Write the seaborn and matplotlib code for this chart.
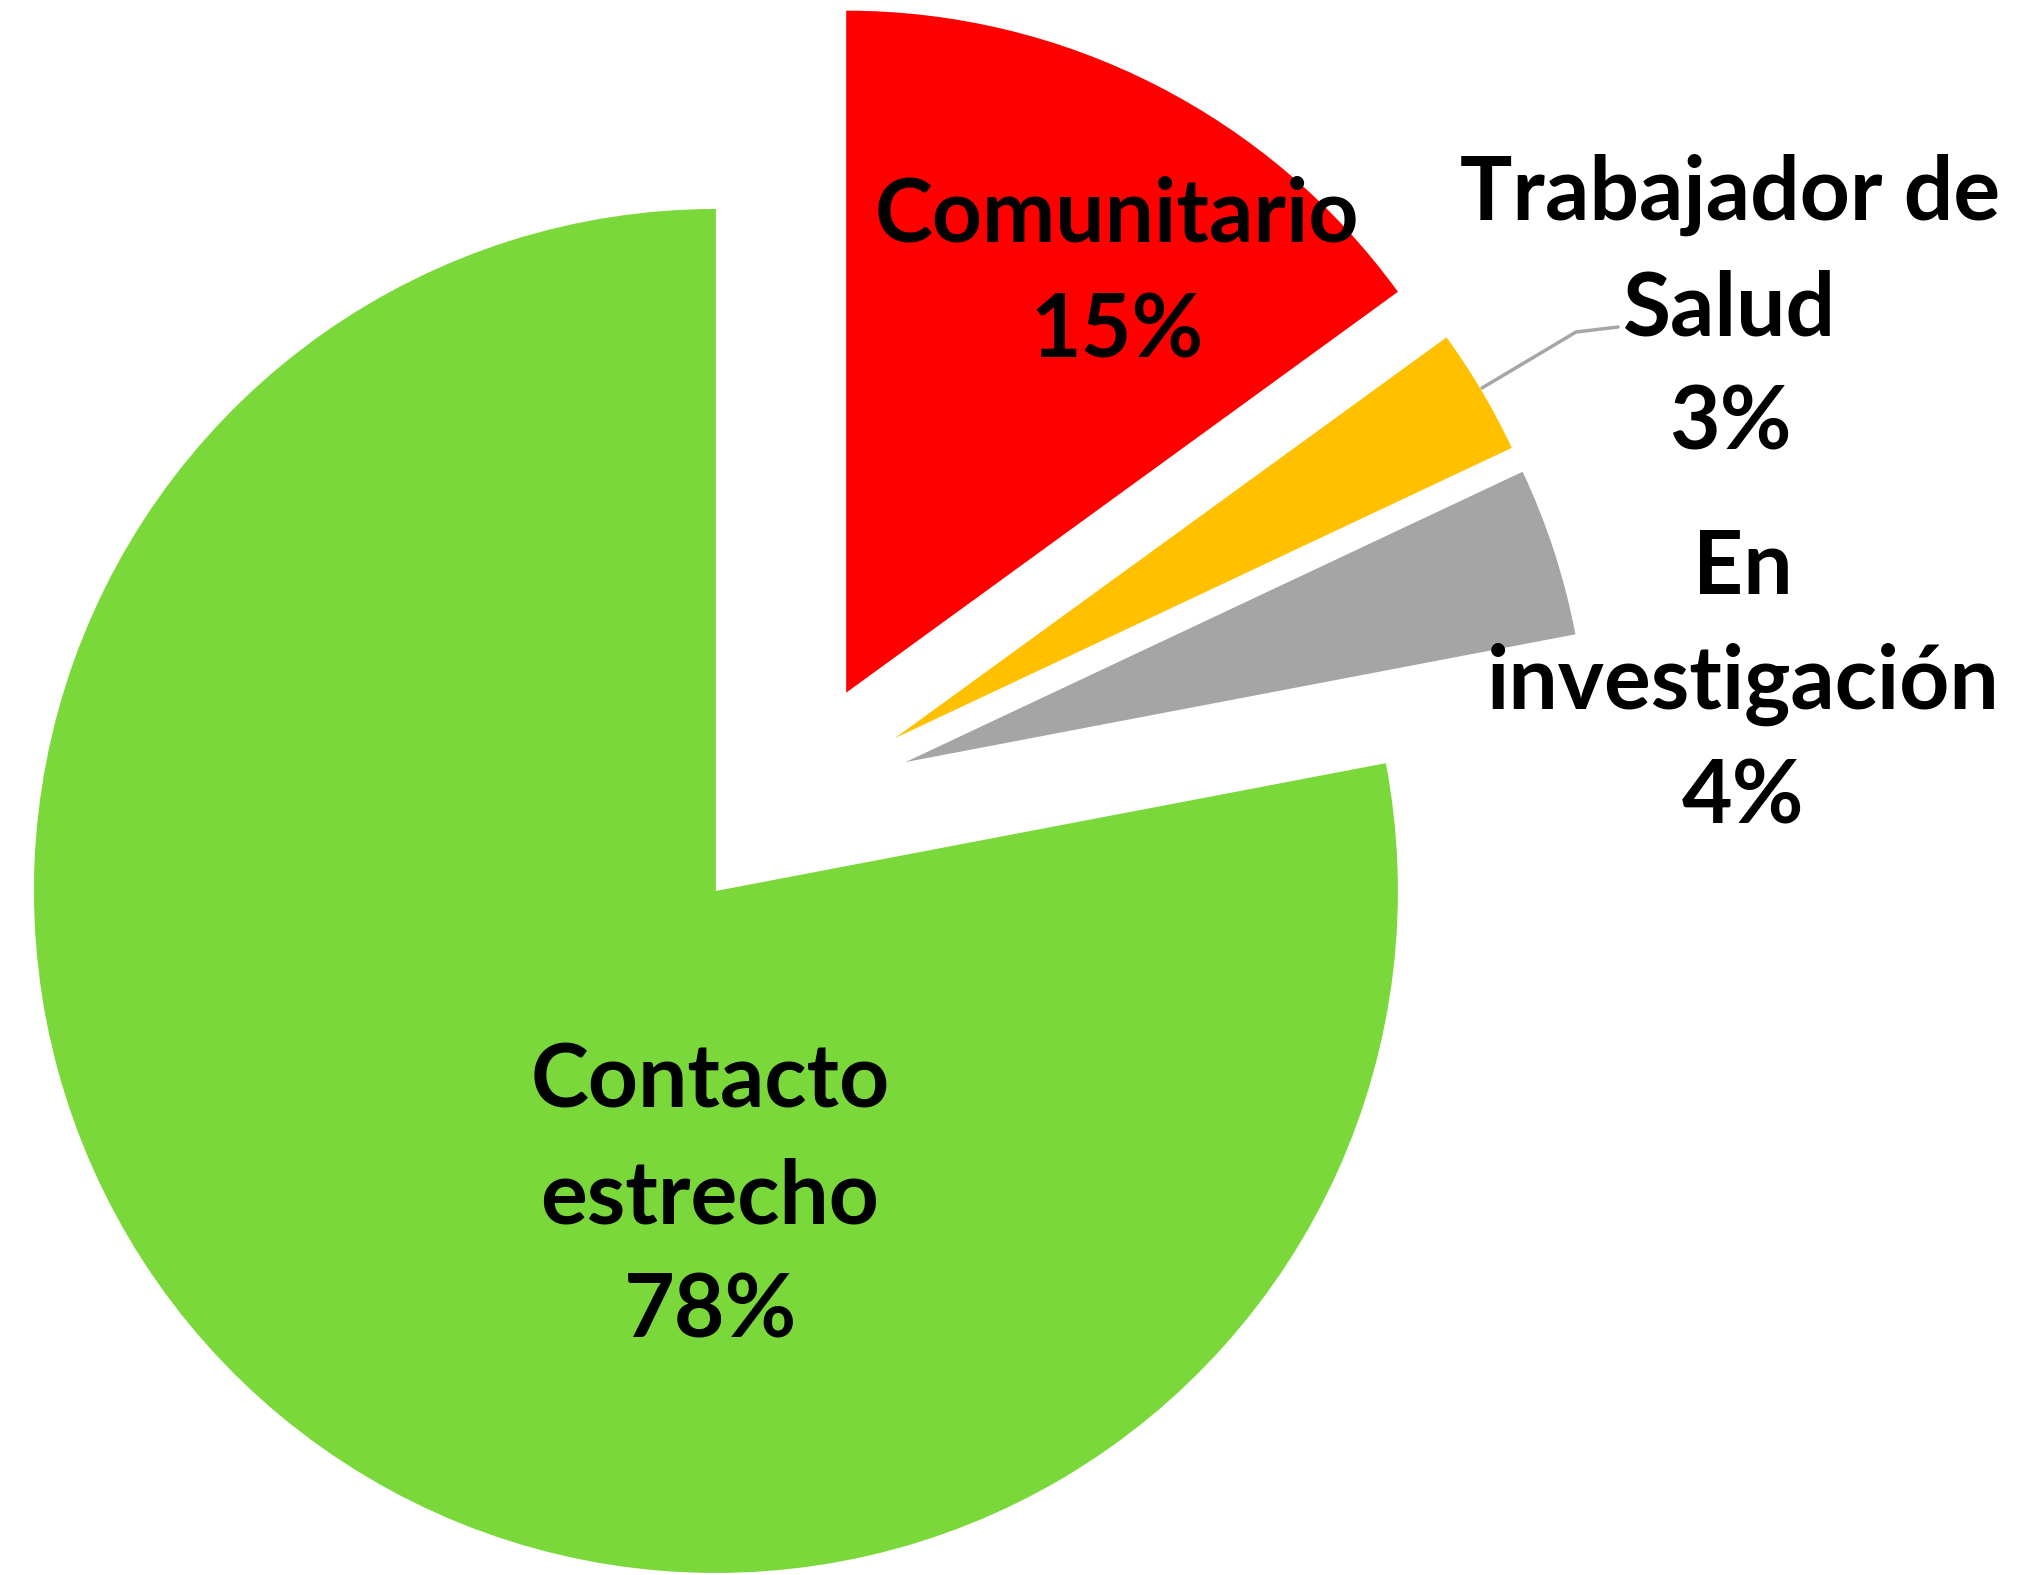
import matplotlib.pyplot as plt
import seaborn as sns

# Datos del gráfico
categorias = ['Comunitario', 'Trabajador de\nSalud', 'En\ninvestigación', 'Contacto\nestrecho']
porcentajes = [15, 3, 4, 78]
colores = ['#FF0000', '#FFC000', '#A5A5A5', '#7BD83B']

sns.set_theme(style='white')
plt.rcParams['font.family'] = ['Lato', 'DejaVu Sans']

W, H = 2017, 1575
fig = plt.figure(figsize=(W / 100, H / 100), dpi=100)
ax = fig.add_axes([0, 0, 1, 1])

# Pastel con todas las porciones separadas (explode va en unidades de datos)
centro = (792, H - 799)
radio = 682
ax.pie(porcentajes, colors=colores, startangle=90, counterclock=False,
       explode=[0.175 * radio] * len(porcentajes), center=centro, radius=radio,
       wedgeprops=dict(linewidth=0))

ax.set_xlim(0, W)
ax.set_ylim(0, H)
ax.set_aspect('equal')
ax.axis('off')

# Posición de las etiquetas (x centro, y de la primera línea base en píxeles)
pos_etiquetas = [(1117, 242), (1730, 220), (1743, 594), (710, 1108)]
paso = 115
for nombre, pct, (x, y0) in zip(categorias, porcentajes, pos_etiquetas):
    lineas = nombre.split('\n') + [f'{pct}%']
    for i, linea in enumerate(lineas):
        ax.text(x, H - (y0 + i * paso), linea, ha='center', va='baseline',
                fontsize=63, fontweight='bold', color='black')

# Línea guía de "Trabajador de Salud"
gx = [1482, 1576, 1618]
gy = [H - 388, H - 332, H - 327]
ax.plot(gx, gy, color='#A6A6A6', linewidth=2.5)

fig.savefig('out.png', dpi=100, facecolor='white')
